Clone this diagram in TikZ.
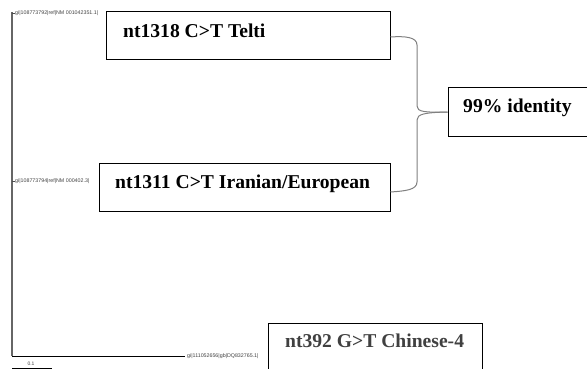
\documentclass[tikz,border=0pt]{standalone}
\usepackage{fontspec}
\setmainfont{Liberation Serif}
\newfontfamily\treefont{Liberation Sans}
\begin{document}
\begin{tikzpicture}[x=1pt,y=-1pt,
  boxframe/.style={draw=black,line width=1pt,minimum width=#1,minimum height=48pt,inner sep=0pt},
  boxtext/.style={anchor=base west,inner sep=0pt,font=\fontsize{19.6}{22}\selectfont\bfseries},
  leaf/.style={anchor=west,inner sep=0pt,font=\treefont\fontsize{5.3}{6}\selectfont,text=black!75},
  brace/.style={draw=black!50,line width=1pt}]
\useasboundingbox (0,0) rectangle (587,369);
\begin{scope}
\clip (0,0) rectangle (587,369);
% tree
\coordinate (top) at (12,12);
\coordinate (mid) at (12,181);
\coordinate (bot) at (12,356);
\coordinate (topt) at (15,13);
\coordinate (midt) at (15,181);
\coordinate (bote) at (185,356);
\draw[black!60,line width=1.3pt] (top) -- (bot);
\draw[black!70,line width=0.6pt] (12,13) -- (topt);
\draw[black!70,line width=0.6pt] (mid) -- (midt);
\draw[black,line width=0.8pt] (bot) -- (bote);
\node[leaf] (l1) at (topt) {gi|108773792|ref|NM 001042351.1|};
\node[leaf] (l2) at (midt) {gi|108773794|ref|NM 000402.3|};
\node[leaf] (l3) at ([xshift=2pt]bote) {gi|111052656|gb|DQ832765.1|};
% scale bar
\coordinate (s1) at (12,368);
\coordinate (s2) at (52,368);
\draw[black,line width=0.8pt] (s1) -- (s2);
\node[inner sep=0pt,font=\treefont\fontsize{5}{6}\selectfont,text=black!75] (sl) at (31,363.5) {0.1};
% boxes
\node[boxframe=284pt] (b1) at (248,36) {};
\node[boxtext] (t1) at (123,38) {nt1318 C>T Telti};
\node[boxframe=291pt] (b2) at (244.5,187) {};
\node[boxtext] (t2) at (115,188) {nt1311 C>T Iranian/European};
\node[boxframe=214pt] (b3) at (375,347) {};
\node[boxtext,text=black!75] (t3) at (285,347) {nt392 G>T Chinese-4};
\node[boxframe=160pt] (b4) at (528,112) {};
\node[boxtext] (t4) at (463,113) {99\% identity};
% brace
\draw[brace] (b1.east |- 0,37) .. controls (405,36) and (417,37) .. (417,45)
  -- (417,106) .. controls (417,112) and (425,112.5) .. (b4.west);
\draw[brace] (b4.west) .. controls (425,112.5) and (417,114) .. (417,120)
  -- (417,182) .. controls (417,190) and (405,191) .. (b2.east |- 0,192);
\end{scope}
\end{tikzpicture}
\end{document}
